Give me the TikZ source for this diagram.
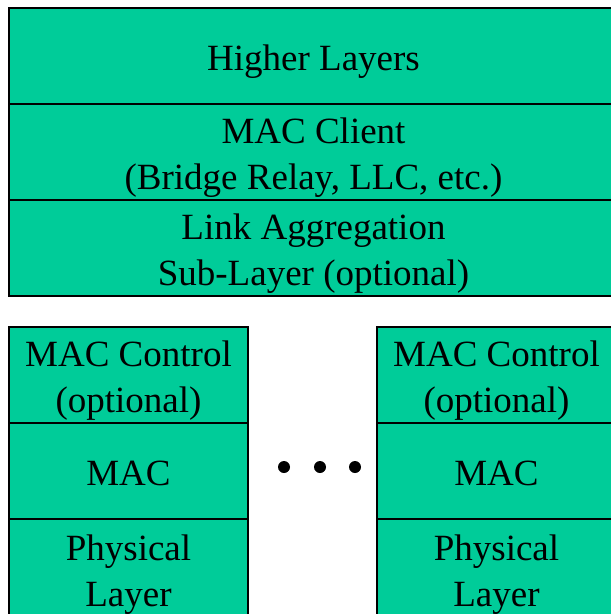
\documentclass[tikz,border=0pt]{standalone}
\usepackage{fontspec}
\setmainfont{Liberation Serif}
\usetikzlibrary{positioning}
\definecolor{layergreen}{RGB}{0,204,153}
\newcommand{\lstrut}{\rule[-8pt]{0pt}{44pt}}
\tikzset{
  layer/.style={rectangle, draw=black, fill=layergreen, line width=2pt,
    outer sep=0pt, inner sep=0pt, align=center,
    font=\fontsize{37}{46}\selectfont},
  widelayer/.style={layer, minimum width=609pt, minimum height=96pt},
  portlayer/.style={layer, minimum width=239pt, minimum height=96pt},
  dot/.style={circle, fill=black, inner sep=0pt, minimum size=12pt}
}

\begin{document}
\begin{tikzpicture}[x=1pt,y=-1pt]
    \useasboundingbox (0,0) rectangle (611,614);

    % shared layers
    \node[widelayer, anchor=north west] (higher) at (9,8) {\lstrut Higher Layers};
    \node[widelayer, below=0pt of higher] (client) {\lstrut MAC Client\\(Bridge Relay, LLC, etc.)};
    \node[widelayer, below=0pt of client] (lag) {\lstrut Link Aggregation\\Sub-Layer (optional)};

    % first port
    \node[portlayer, anchor=north west] (ctlA) at (9,327) {\lstrut MAC Control\\(optional)};
    \node[portlayer, below=0pt of ctlA] (macA) {\lstrut MAC};
    \node[portlayer, below=0pt of macA, minimum height=100pt] (phyA) {\lstrut Physical\\Layer};

    % last port
    \node[portlayer, anchor=north west] (ctlB) at (377,327) {\lstrut MAC Control\\(optional)};
    \node[portlayer, below=0pt of ctlB] (macB) {\lstrut MAC};
    \node[portlayer, below=0pt of macB, minimum height=100pt] (phyB) {\lstrut Physical\\Layer};

    % ellipsis between the ports
    \foreach \x [count=\i] in {284,320,355}
        \node[dot] (dot\i) at (\x,467) {};
\end{tikzpicture}
\end{document}
